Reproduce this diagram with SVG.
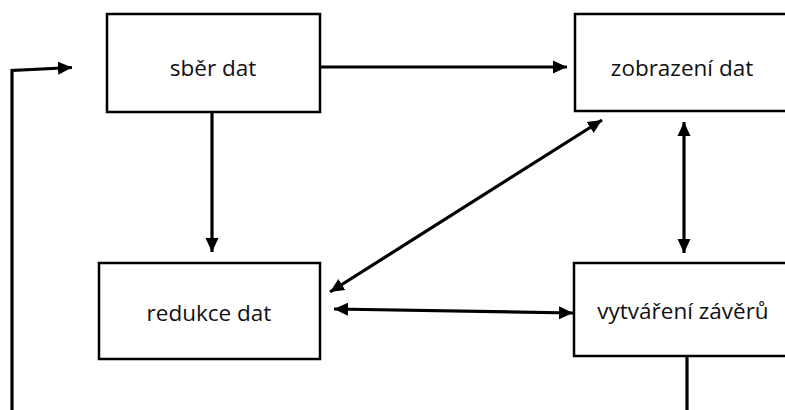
<svg xmlns="http://www.w3.org/2000/svg" width="785" height="410" viewBox="0 0 785 410">
<style>
.box{fill:#fff;stroke:#000;stroke-width:2.5}
.lbl{font-family:"Open Sans","Liberation Sans",sans-serif;font-size:22.5px;fill:#111;text-anchor:middle;dominant-baseline:central}
.con{fill:none;stroke:#000;stroke-width:3.2}
</style>
<defs>
<marker id="ah" markerUnits="userSpaceOnUse" markerWidth="15" markerHeight="15" viewBox="0 0 15 15" refX="14" refY="7.5" orient="auto-start-reverse">
<path d="M0,1 L14,7.5 L0,14 Z" fill="#000"/>
</marker>
</defs>
<rect width="785" height="410" fill="#fff"/>
<g id="connectors">
<polyline class="con" points="12,410 12,70.5 72,67.5" marker-end="url(#ah)"/>
<line class="con" x1="320" y1="67" x2="567" y2="67" marker-end="url(#ah)"/>
<line class="con" x1="212" y1="112" x2="212" y2="252" marker-end="url(#ah)"/>
<line class="con" x1="330" y1="292" x2="602" y2="120" marker-start="url(#ah)" marker-end="url(#ah)"/>
<line class="con" x1="334" y1="309" x2="573" y2="313" marker-start="url(#ah)" marker-end="url(#ah)"/>
<line class="con" x1="684" y1="122" x2="684" y2="253" marker-start="url(#ah)" marker-end="url(#ah)"/>
<line class="con" x1="687" y1="356" x2="687" y2="410"/>
</g>
<g id="node-sber">
<rect class="box" x="107" y="14" width="213" height="98"/>
<text class="lbl" x="213" y="67">sběr dat</text>
</g>
<g id="node-zobrazeni">
<rect class="box" x="575" y="14" width="215" height="97"/>
<text class="lbl" x="682" y="67">zobrazení dat</text>
</g>
<g id="node-redukce">
<rect class="box" x="99" y="263" width="221" height="96"/>
<text class="lbl" x="209" y="312">redukce dat</text>
</g>
<g id="node-vytvareni">
<rect class="box" x="574" y="263" width="216" height="93"/>
<text class="lbl" x="683" y="310">vytváření závěrů</text>
</g>
</svg>
